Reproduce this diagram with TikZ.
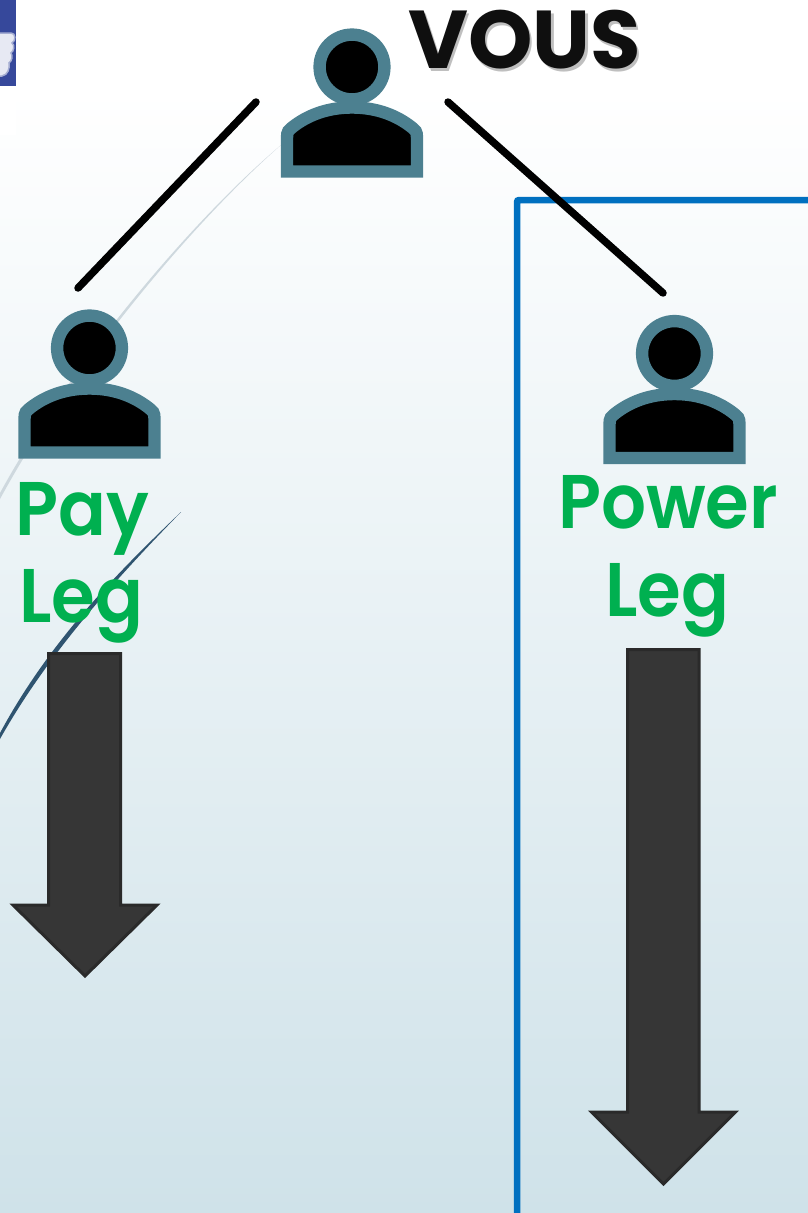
\documentclass[tikz,border=0pt]{standalone}
\usepackage{fontspec}
\setmainfont{Poppins}[BoldFont={Poppins Bold}]
\newfontfamily\semib{Poppins SemiBold}[FakeStretch=0.93]
\newfontfamily\boldv{Poppins Bold}
\usetikzlibrary{calc}
\definecolor{teal1}{HTML}{4C8090}
\definecolor{legreen}{HTML}{00B050}
\definecolor{boxblue}{HTML}{0070C0}
\definecolor{arrowfill}{HTML}{363636}
\definecolor{arrowline}{HTML}{2A2A2A}
\definecolor{fbblue}{HTML}{36489B}
\definecolor{bgmid}{HTML}{EBF3F6}
\definecolor{bgbottom}{HTML}{CFE2E9}
\definecolor{curvegrey}{HTML}{CED8DE}
\definecolor{curvedark}{HTML}{2F5470}
\tikzset{
  x=1pt,y=-1pt,
  link/.style={line width=7.5pt,line cap=round,black},
  persona/.style={draw=teal1,fill=black,line width=12.4pt},
  bigarrow/.style={fill=arrowfill,draw=arrowline,line width=3pt,line join=miter},
  leglabel/.style={text=legreen,font=\fontsize{76}{76}\selectfont\semib,inner sep=0pt,anchor=base},
  pics/personicon/.style={code={
    \draw[persona] (0,-104.5) circle[radius=32.4];
    \draw[persona] (-65,0) -- (-65,-34) .. controls (-65,-40) and (-63,-42) .. (-60,-44)
       .. controls (-45,-56) and (-25,-64) .. (0,-64)
       .. controls (25,-64) and (45,-56) .. (60,-44)
       .. controls (63,-42) and (65,-40) .. (65,-34) -- (65,0) -- cycle;
  }}
}
\begin{document}
\begin{tikzpicture}
\useasboundingbox (0,0) rectangle (808,1213);
% background
\fill[white] (0,0) rectangle (808,90);
\shade[top color=white,middle color=bgmid,bottom color=bgbottom] (0,90) rectangle (808,1213);
\fill[white] (0,85) rectangle (16,135);
% corner icon
\fill[fbblue] (0,0) rectangle (16,86);
\fill[white!88!fbblue,draw=white!55!fbblue,line width=1.5pt] (-3,33) -- (11,33)
  .. controls (16,33) and (16,41) .. (12,43) .. controls (15,45) and (14,51) .. (11,53)
  .. controls (13,56) and (12,61) .. (9,63) .. controls (10,68) and (8,75) .. (2,76) -- (-3,76) -- cycle;
% faint curves
\fill[curvegrey] (281,145) .. controls (190,222) and (70,365) .. (0,493) -- (0,499) .. controls (70,370) and (190,225) .. cycle;
\fill[curvedark] (181,512) .. controls (120,570) and (50,640) .. (0,733) -- (0,739) .. controls (50,650) and (120,575) .. cycle;
% box
\draw[boxblue,line width=6.5pt,rounded corners=2pt] (517,1225) -- (517,200) -- (820,200);
% persons
\pic at (352,171.5) {personicon};
\pic at (89.5,452.5) {personicon};
\pic at (674.5,458) {personicon};
\coordinate (topL) at (256,102);
\coordinate (legL) at (78,288);
\coordinate (topR) at (448,102);
\coordinate (legR) at (663,293);
\draw[link] (topL) -- (legL);
\draw[link] (topR) -- (legR);
% arrows
\draw[bigarrow] (48.5,653.5) -- (120.5,653.5) -- (120.5,905) -- (157,905) -- (85,976) -- (13,905) -- (48.5,905) -- cycle;
\draw[bigarrow] (627.5,649.5) -- (699,649.5) -- (699,1112) -- (735.5,1112) -- (663.5,1184) -- (591.5,1112) -- (627.5,1112) -- cycle;
% labels
\node[inner sep=0pt,anchor=base,text=black!50,opacity=.5,font=\fontsize{82}{82}\selectfont\boldv] (vousshadow) at (527,71) {VOUS};
\node[inner sep=0pt,anchor=base,text=black!94,font=\fontsize{82}{82}\selectfont\boldv] (vous) at (524.5,68) {VOUS};
\node[leglabel] (pay) at (82,535) {Pay};
\node[leglabel] (leg1) at (81,622) {Leg};
\node[leglabel] (power) at (668,528) {Power};
\node[leglabel] (leg2) at (667,616) {Leg};
\end{tikzpicture}
\end{document}
